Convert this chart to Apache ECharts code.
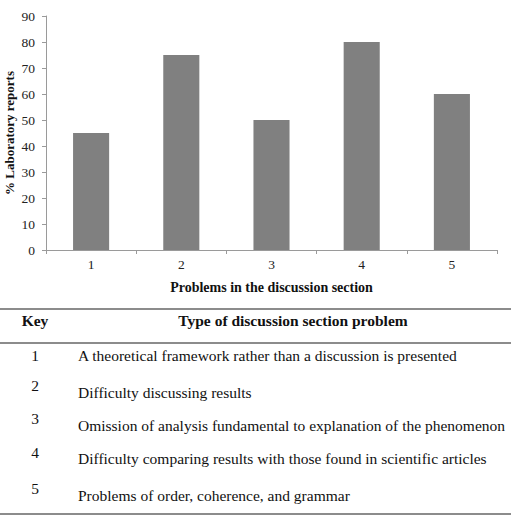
<!DOCTYPE html>
<html>
<head>
<meta charset="utf-8">
<script src="https://cdn.jsdelivr.net/npm/echarts@6/dist/echarts.min.js"></script>
<style>
html,body{margin:0;padding:0;background:#fff;}
#c{width:522px;height:519px;}
</style>
</head>
<body>
<div id="c"></div>
<script>
var categories = ['1', '2', '3', '4', '5'];
var values = [45, 75, 50, 80, 60];
var yTicks = [0, 10, 20, 30, 40, 50, 60, 70, 80, 90];
var xTitle = 'Problems in the discussion section';
var yTitle = '% Laboratory reports';
var keyHeader = 'Key';
var typeHeader = 'Type of discussion section problem';
var keyDescriptions = [
  'A theoretical framework rather than a discussion is presented',
  'Difficulty discussing results',
  'Omission of analysis fundamental to explanation of the phenomenon',
  'Difficulty comparing results with those found in scientific articles',
  'Problems of order, coherence, and grammar'
];

var FONT = 'Liberation Serif';
var chart = echarts.init(document.getElementById('c'), null, {renderer: 'svg'});

// table layout (pixel positions, kept apart from data)
var numY = [355, 385, 418, 452, 488];
var textY = [355, 392, 425, 458, 495];
var graphics = [];
function hline(y) {
  graphics.push({type: 'line', shape: {x1: 0, y1: y, x2: 511, y2: y},
    style: {stroke: '#8c8c8c', lineWidth: 2}, silent: true});
}
function txt(x, y, s, bold, align) {
  graphics.push({type: 'text', x: x, y: y, silent: true, style: {
    text: s, fontFamily: FONT, fontSize: 15.5, fontWeight: bold ? 'bold' : 'normal',
    fill: '#111', align: align, verticalAlign: 'middle'}});
}
hline(309); hline(343); hline(514);
txt(35, 320, keyHeader, true, 'center');
txt(293, 320, typeHeader, true, 'center');
categories.forEach(function (k, i) {
  txt(35, numY[i], k, false, 'center');
  txt(78, textY[i], keyDescriptions[i], false, 'left');
});

chart.setOption({
  animation: false,
  backgroundColor: '#fff',
  grid: {left: 46, right: 25, top: 16, height: 234, containLabel: false, outerBoundsMode: 'none'},
  xAxis: {
    type: 'category',
    data: categories,
    name: xTitle,
    nameLocation: 'middle',
    nameGap: 30,
    nameMoveOverlap: false,
    nameTextStyle: {fontFamily: FONT, fontWeight: 'bold', fontSize: 14, color: '#111'},
    axisLine: {lineStyle: {color: '#9a9a9a', width: 1}},
    axisTick: {show: true, alignWithLabel: false, length: 4, lineStyle: {color: '#9a9a9a'}},
    axisLabel: {fontFamily: FONT, fontSize: 13.5, color: '#222', margin: 7}
  },
  yAxis: {
    type: 'value',
    min: 0, max: 90, interval: 10,
    name: yTitle,
    nameLocation: 'middle',
    nameGap: 37,
    nameMoveOverlap: false,
    nameRotate: 90,
    nameTextStyle: {fontFamily: FONT, fontWeight: 'bold', fontSize: 13, color: '#111',
      verticalAlign: 'middle'},
    axisLine: {show: true, lineStyle: {color: '#9a9a9a', width: 1}},
    axisTick: {show: true, length: 4, lineStyle: {color: '#9a9a9a'}},
    splitLine: {show: false},
    axisLabel: {fontFamily: FONT, fontSize: 13.5, color: '#222', margin: 11,
      formatter: function (v) { return yTicks.indexOf(v) >= 0 ? String(v) : ''; }}
  },
  series: [{
    type: 'bar',
    data: values,
    barWidth: '40%',
    itemStyle: {color: '#808080'}
  }],
  graphic: graphics
});
</script>
</body>
</html>
